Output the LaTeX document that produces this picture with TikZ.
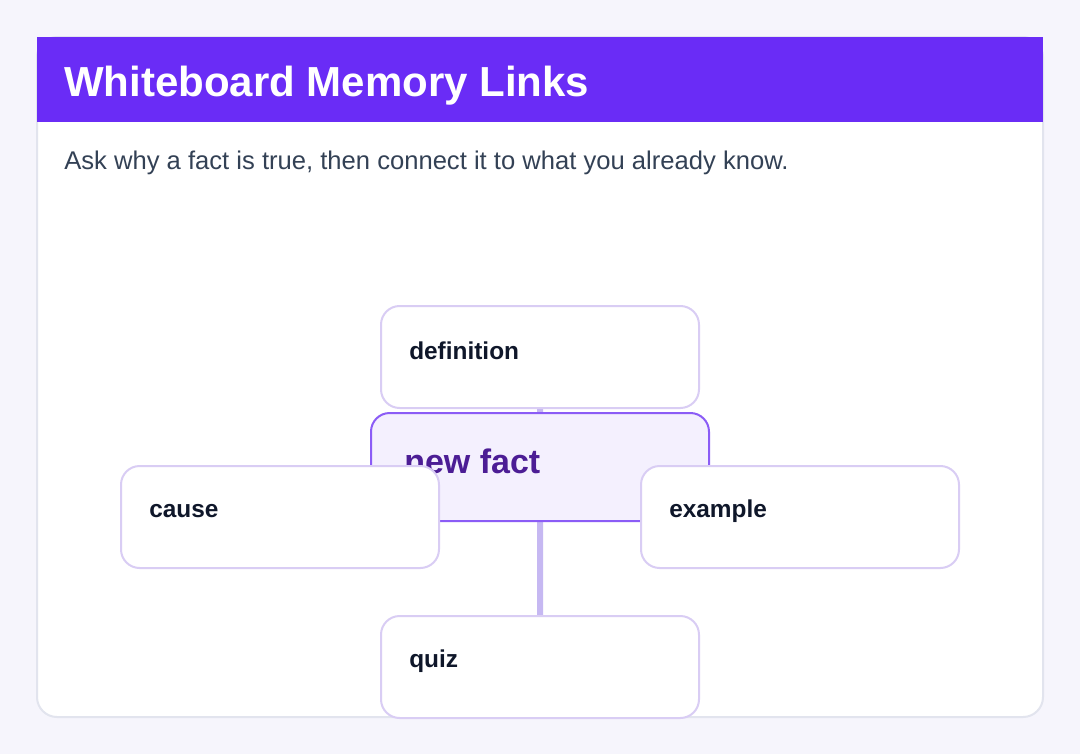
\documentclass[tikz,border=0pt]{standalone}
\usepackage{fontspec}
\setmainfont{Liberation Sans}
\definecolor{pageBg}{HTML}{F6F5FC}
\definecolor{cardLine}{HTML}{E2E4EE}
\definecolor{headBg}{HTML}{6A2CF6}
\definecolor{subInk}{HTML}{334155}
\definecolor{boxLine}{HTML}{D9CDF4}
\definecolor{linkLine}{HTML}{C6B8F2}
\definecolor{hubLine}{HTML}{8B5CF6}
\definecolor{hubFill}{HTML}{F4F0FE}
\definecolor{hubInk}{HTML}{4C1D95}
\definecolor{boxInk}{HTML}{0F172A}
\tikzset{
  leaf/.style={draw=boxLine, line width=1.5pt, fill=white, rounded corners=14pt,
    minimum width=238.5pt, minimum height=76.5pt, inner sep=0pt},
  hub/.style={leaf, draw=hubLine, fill=hubFill, minimum width=253.5pt, minimum height=81pt},
  leaftext/.style={anchor=west, inner sep=0pt, font=\bfseries\fontsize{18.3}{22}\selectfont, text=boxInk},
  link/.style={draw=linkLine, line width=4.5pt}
}
\begin{document}
\begin{tikzpicture}[x=0.75pt, y=-0.75pt]
\useasboundingbox (0,0) rectangle (1080,754);
\fill[pageBg] (0,0) rectangle (1080,754);
\filldraw[fill=white, draw=cardLine, line width=1.5pt, rounded corners=15pt] (37,37) rectangle (1043,717);
\fill[headBg] (37,37) rectangle (1043,122);
\node[anchor=west, inner sep=0pt, text=white, font=\bfseries\fontsize{31.5}{36}\selectfont] (title) at (64,86) {Whiteboard Memory Links};
\node[anchor=west, inner sep=0pt, text=subInk, font=\fontsize{19.2}{23}\selectfont] (sub) at (64,163) {Ask why a fact is true, then connect it to what you already know.};

% hub and leaves
\coordinate (c) at (540,467);
\coordinate (d) at (540,357);
\coordinate (k) at (280,517);
\coordinate (e) at (800,517);
\coordinate (q) at (540,667);
\draw[link] (c) -- (d) (c) -- (q) (c) -- (k) (c) -- (e);

\node[hub] (fact) at (c) {};
\node[anchor=west, inner sep=0pt, font=\bfseries\fontsize{25.5}{30}\selectfont, text=hubInk] at ([xshift=25.5pt,yshift=4.5pt]fact.west) {new fact};

\node[leaf] (def) at (d) {};
\node[leaf] (cause) at (k) {};
\node[leaf] (ex) at (e) {};
\node[leaf] (quiz) at (q) {};
\foreach \n/\t in {def/definition, cause/cause, ex/example, quiz/quiz}
  \node[leaftext] at ([xshift=21.75pt,yshift=4.5pt]\n.west) {\t};
\end{tikzpicture}
\end{document}
